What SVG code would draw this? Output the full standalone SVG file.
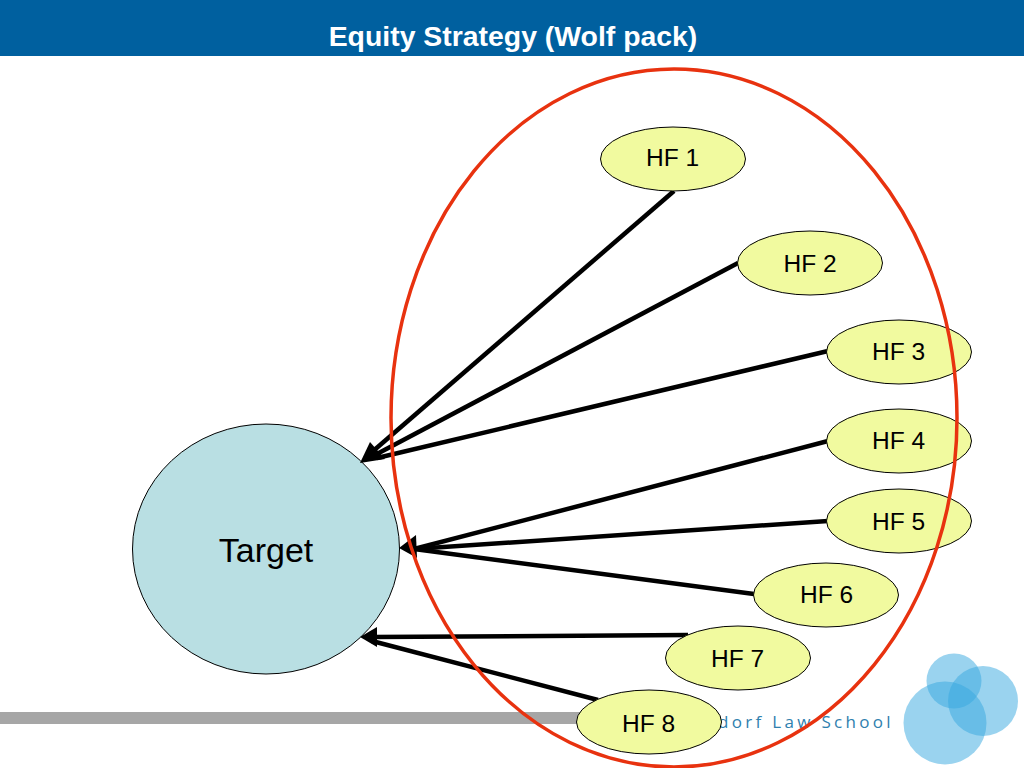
<svg xmlns="http://www.w3.org/2000/svg" width="1024" height="768" viewBox="0 0 1024 768">
<style>
.hf{fill:#f1fa9f;stroke:#000;stroke-width:1}
.lbl{font-family:"Liberation Sans",Arial,sans-serif;font-size:24.500px;fill:#000;text-anchor:middle}
.conn line{stroke:#000;stroke-width:4.500;fill:none}
.arrow{fill:#000}
.logo{fill:#35a8e0;fill-opacity:.5}
</style>
<rect width="1024" height="56" fill="#00609f"/>
<text x="513" y="46" font-family="Liberation Sans,Arial,sans-serif" font-size="28.400" font-weight="bold" fill="#fff" text-anchor="middle">Equity Strategy (Wolf pack)</text>
<rect x="0" y="712" width="600" height="12" fill="#a6a6a6"/>
<text x="806" y="728" font-family="Open Sans,Liberation Sans,sans-serif" font-size="17" letter-spacing="3.300" fill="#2f80ae" text-anchor="middle">dorf Law School</text>
<g id="logo">
<circle class="logo" cx="954" cy="681" r="27.500"/>
<circle class="logo" cx="983" cy="701" r="35"/>
<circle class="logo" cx="945" cy="723" r="41.500"/>
</g>
<g id="target"><ellipse cx="266" cy="549" rx="133.500" ry="125" fill="#b9dfe3" stroke="#000" stroke-width="1"/><text x="266" y="562" class="lbl" style="font-size:34px">Target</text></g>
<g class="conn" id="connectors">
<line x1="674" y1="191" x2="372" y2="452"/>
<line x1="738" y1="263" x2="375" y2="455"/>
<line x1="828" y1="351" x2="377" y2="458"/>
<line x1="828" y1="441" x2="414" y2="549"/>
<line x1="828" y1="521" x2="414" y2="549"/>
<line x1="754" y1="594" x2="414" y2="549"/>
<line x1="688" y1="635" x2="372" y2="637"/>
<line x1="598" y1="700" x2="372" y2="641"/>
<polygon class="arrow" points="360,463 370,442 385,459"/>
<polygon class="arrow" points="399,548 416,535 417,558"/>
<polygon class="arrow" points="360,637 377,627 377,647"/>
</g>
<g id="hf1"><ellipse class="hf" cx="673" cy="159" rx="72.500" ry="32"/><text class="lbl" x="672.500" y="166">HF 1</text></g>
<g id="hf2"><ellipse class="hf" cx="810" cy="263" rx="72.500" ry="32"/><text class="lbl" x="810" y="272">HF 2</text></g>
<g id="hf3"><ellipse class="hf" cx="899" cy="352" rx="72.500" ry="32"/><text class="lbl" x="898.500" y="360">HF 3</text></g>
<g id="hf4"><ellipse class="hf" cx="899" cy="441" rx="72.500" ry="32"/><text class="lbl" x="898.500" y="449">HF 4</text></g>
<g id="hf5"><ellipse class="hf" cx="899" cy="521" rx="72.500" ry="32"/><text class="lbl" x="898.500" y="530">HF 5</text></g>
<g id="hf6"><ellipse class="hf" cx="826" cy="595" rx="72.500" ry="32"/><text class="lbl" x="826.500" y="603">HF 6</text></g>
<g id="hf7"><ellipse class="hf" cx="738" cy="658" rx="72.500" ry="32"/><text class="lbl" x="737.500" y="667">HF 7</text></g>
<g id="hf8"><ellipse class="hf" cx="649" cy="722" rx="72.500" ry="32"/><text class="lbl" x="648.500" y="732">HF 8</text></g>
<ellipse id="group-ring" cx="674" cy="418" rx="283" ry="349" fill="none" stroke="#e8320f" stroke-width="3.500"/>
</svg>
